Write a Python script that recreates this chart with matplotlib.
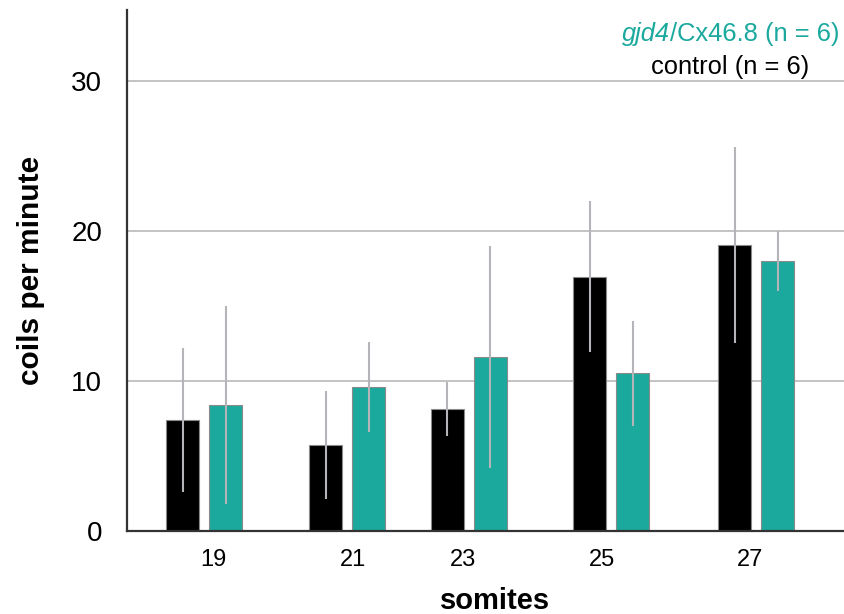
import matplotlib
matplotlib.use("Agg")
import matplotlib.pyplot as plt
import numpy as np

# data
somites = ["19", "21", "23", "25", "27"]
control_mean = [7.4, 5.7, 8.1, 16.95, 19.05]
control_err = [4.8, 3.6, 1.8, 5.0, 6.5]
gjd4_mean = [8.4, 9.6, 11.6, 10.5, 18.0]
gjd4_err = [6.6, 3.0, 7.4, 3.5, 2.0]

# layout: group centres are unevenly spaced in the original,
# and the tick labels sit a little off the pair centres
group_pos = np.array([0.77, 2.20, 3.415, 4.84, 6.29])
label_pos = np.array([0.86, 2.26, 3.36, 4.75, 6.23])
bar_w = 0.33
offset = 0.215

teal = "#1ba99e"
err_col = "#b5b5b9"

plt.rcParams["font.family"] = ["Liberation Sans", "DejaVu Sans"]

fig = plt.figure(figsize=(8.44, 6.14), dpi=100)
ax = fig.add_axes([0.1505, 0.1352, 0.8495, 0.8485])

ax.bar(group_pos - offset, control_mean, bar_w, color="black",
       edgecolor="#8a8a8a", linewidth=0.8, zorder=2)
ax.bar(group_pos + offset, gjd4_mean, bar_w, color=teal,
       edgecolor="#8a8a8a", linewidth=0.8, zorder=2)
ax.errorbar(group_pos - offset, control_mean, yerr=control_err, fmt="none",
            ecolor=err_col, elinewidth=1.5, capsize=0, zorder=3)
ax.errorbar(group_pos + offset, gjd4_mean, yerr=gjd4_err, fmt="none",
            ecolor=err_col, elinewidth=1.5, capsize=0, zorder=3)

ax.set_xlim(0, 7.17)
ax.set_ylim(0, 34.7)
ax.set_yticks([0, 10, 20, 30])
ax.set_xticks(label_pos)
ax.set_xticklabels(somites)
ax.tick_params(axis="y", length=0, pad=18, labelsize=20)
ax.tick_params(axis="x", length=0, pad=13, labelsize=17)

ax.yaxis.grid(True, color="#b3b3b3", linewidth=1.1, zorder=0)
ax.set_axisbelow(True)
for s in ["top", "right"]:
    ax.spines[s].set_visible(False)
for s in ["left", "bottom"]:
    ax.spines[s].set_color("#333333")
    ax.spines[s].set_linewidth(1.6)

ax.set_ylabel("coils per minute", fontsize=21.5, fontweight="bold", labelpad=19)
ax.set_xlabel("somites", fontsize=21, fontweight="bold")
ax.xaxis.set_label_coords(0.513, -0.108)

# legend as plain coloured text, "gjd4" in italics
t1 = fig.text(622 / 844, 1 - 34 / 614, "gjd4", style="italic",
              color=teal, fontsize=18.4, ha="left", va="center")
ax.annotate("/Cx46.8 (n = 6)", xy=(1, 0), xycoords=t1, color=teal,
            fontsize=18.4, ha="left", va="bottom", annotation_clip=False)
fig.text(730 / 844, 1 - 67 / 614, "control (n = 6)",
         color="black", fontsize=18.4, ha="center", va="center")

fig.savefig("out.png", dpi=100)
